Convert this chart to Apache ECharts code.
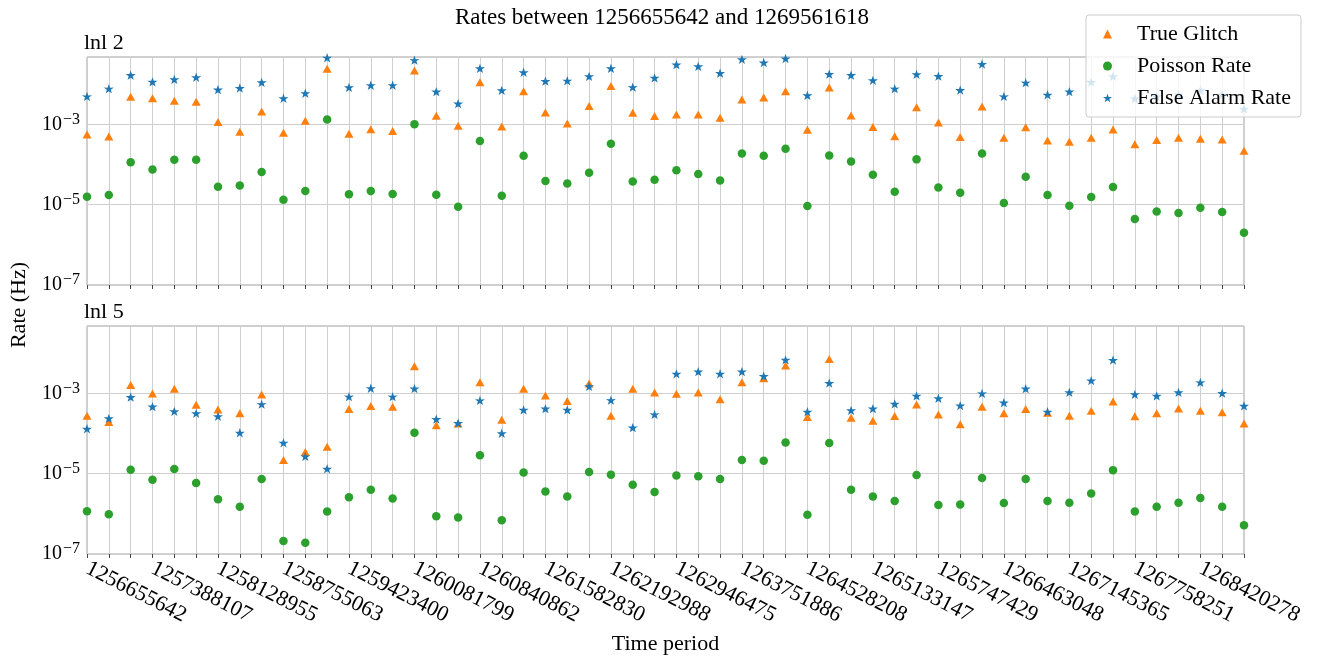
<!DOCTYPE html>
<html>
<head>
<meta charset="utf-8">
<script src="https://cdn.jsdelivr.net/npm/echarts@6/dist/echarts.min.js"></script>
<style>
html,body{margin:0;padding:0;background:#fff;}
#chart{width:1330px;height:659px;}
</style>
</head>
<body>
<div id="chart"></div>
<script>
// ---- data ----
const tickLabels = ['1256655642','1257388107','1258128955','1258755063','1259423400','1260081799','1260840862','1261582830','1262192988','1262946475','1263751886','1264528208','1265133147','1265747429','1266463048','1267145365','1267758251','1268420278'];
const seriesNames = ['True Glitch', 'Poisson Rate', 'False Alarm Rate'];

const lnl2Glitch = [5.6e-4,5.0e-4,4.9e-3,4.5e-3,3.9e-3,3.7e-3,1.15e-3,6.6e-4,2.1e-3,6.2e-4,
  1.23e-3,2.45e-2,5.9e-4,7.6e-4,6.9e-4,2.2e-2,1.66e-3,9.3e-4,1.12e-2,8.9e-4,
  6.7e-3,2.0e-3,1.05e-3,2.9e-3,9.1e-3,1.95e-3,1.62e-3,1.78e-3,1.78e-3,1.48e-3,
  4.2e-3,4.7e-3,6.7e-3,7.4e-4,8.4e-3,1.68e-3,8.7e-4,5.1e-4,2.7e-3,1.12e-3,
  4.9e-4,2.8e-3,4.7e-4,8.5e-4,4.0e-4,3.7e-4,4.7e-4,7.5e-4,3.2e-4,4.1e-4,
  4.7e-4,4.4e-4,4.2e-4,2.2e-4];
const lnl2Poisson = [1.58e-5,1.74e-5,1.15e-4,7.5e-5,1.32e-4,1.33e-4,2.8e-5,3.0e-5,6.5e-5,1.33e-5,
  2.2e-5,1.33e-3,1.82e-5,2.2e-5,1.86e-5,1.02e-3,1.78e-5,8.9e-6,3.9e-4,1.68e-5,
  1.66e-4,3.9e-5,3.4e-5,6.3e-5,3.3e-4,3.8e-5,4.2e-5,7.2e-5,5.8e-5,4.0e-5,
  1.9e-4,1.66e-4,2.5e-4,9.3e-6,1.68e-4,1.19e-4,5.6e-5,2.1e-5,1.35e-4,2.7e-5,
  2.0e-5,1.88e-4,1.1e-5,5.0e-5,1.74e-5,9.4e-6,1.55e-5,2.75e-5,4.4e-6,6.8e-6,
  6.2e-6,8.4e-6,6.6e-6,2.0e-6];
const lnl2FAR = [5.0e-3,7.8e-3,1.7e-2,1.15e-2,1.33e-2,1.5e-2,7.4e-3,8.1e-3,1.12e-2,4.5e-3,
  6.0e-3,4.6e-2,8.4e-3,9.5e-3,9.5e-3,4.0e-2,6.6e-3,3.3e-3,2.5e-2,7.1e-3,
  2.0e-2,1.2e-2,1.23e-2,1.58e-2,2.5e-2,8.5e-3,1.45e-2,3.1e-2,2.8e-2,1.9e-2,
  4.2e-2,3.5e-2,4.4e-2,5.3e-3,1.8e-2,1.7e-2,1.26e-2,7.8e-3,1.78e-2,1.6e-2,
  7.2e-3,3.2e-2,5.0e-3,1.1e-2,5.5e-3,6.6e-3,1.14e-2,1.58e-2,4.4e-3,5.0e-3,
  5.6e-3,7.1e-3,5.5e-3,2.45e-3];

const lnl5Glitch = [2.8e-4,1.95e-4,1.62e-3,1.0e-3,1.32e-3,5.2e-4,4.0e-4,3.2e-4,9.4e-4,2.2e-5,
  3.5e-5,4.7e-5,4.1e-4,4.9e-4,4.7e-4,4.8e-3,1.62e-4,1.78e-4,1.9e-3,2.2e-4,
  1.32e-3,8.9e-4,6.5e-4,1.78e-3,2.8e-4,1.32e-3,1.06e-3,9.8e-4,1.06e-3,7.2e-4,
  1.9e-3,2.4e-3,5.0e-3,2.6e-4,7.2e-3,2.5e-4,2.1e-4,2.75e-4,5.3e-4,3.0e-4,
  1.7e-4,4.7e-4,3.2e-4,4.1e-4,3.3e-4,2.8e-4,3.7e-4,6.3e-4,2.7e-4,3.2e-4,
  4.2e-4,3.7e-4,3.4e-4,1.78e-4];
const lnl5Poisson = [1.17e-6,9.8e-7,1.26e-5,7.1e-6,1.32e-5,5.9e-6,2.3e-6,1.5e-6,7.4e-6,2.1e-7,
  1.9e-7,1.15e-6,2.6e-6,4.0e-6,2.4e-6,1.05e-4,8.7e-7,8.1e-7,2.9e-5,6.9e-7,
  1.07e-5,3.6e-6,2.7e-6,1.1e-5,9.5e-6,5.3e-6,3.5e-6,9.1e-6,8.7e-6,7.4e-6,
  2.2e-5,2.1e-5,6.0e-5,9.5e-7,5.8e-5,4.0e-6,2.7e-6,2.1e-6,9.3e-6,1.66e-6,
  1.7e-6,7.8e-6,1.86e-6,7.4e-6,2.1e-6,1.9e-6,3.2e-6,1.23e-5,1.15e-6,1.5e-6,
  1.9e-6,2.5e-6,1.5e-6,5.2e-7];
const lnl5FAR = [1.32e-4,2.4e-4,8.1e-4,4.7e-4,3.6e-4,3.2e-4,2.7e-4,1.05e-4,5.4e-4,5.9e-5,
  2.7e-5,1.33e-5,8.3e-4,1.35e-3,8.3e-4,1.33e-3,2.3e-4,1.82e-4,6.7e-4,1.02e-4,
  3.9e-4,4.2e-4,3.9e-4,1.5e-3,6.8e-4,1.41e-4,3.0e-4,3.1e-3,3.5e-3,3.1e-3,
  3.5e-3,2.7e-3,6.9e-3,3.5e-4,1.82e-3,3.8e-4,4.2e-4,5.5e-4,8.7e-4,7.6e-4,
  5.0e-4,1.0e-3,5.9e-4,1.32e-3,3.5e-4,1.07e-3,2.1e-3,6.8e-3,9.5e-4,8.7e-4,
  1.07e-3,1.88e-3,1.02e-3,4.9e-4];

// ---- chart ----
const FONT = '"Liberation Serif", "Times New Roman", serif';
const colors = ['#ff7f0e', '#2ca02c', '#1f77b4'];
const STAR = 'path://M50,0 L61.8,35.1 L97.6,34.5 L69,56.2 L79.4,90.5 L50,70 L20.6,90.5 L31,56.2 L2.4,34.5 L38.2,35.1 Z';
const symbols = ['triangle', 'circle', STAR];
const symbolSizes = [[9, 8], 8.5, [10, 9.3]];
const nPts = lnl2Glitch.length;

function pairs(arr) { return arr.map((v, i) => [i, v]); }

function xAxisCfg(gridIndex, showLabels) {
  return {
    type: 'value', gridIndex: gridIndex, min: 0, max: nPts - 1, interval: 1,
    axisLine: { show: false },
    axisTick: { show: true, length: 4, lineStyle: { color: '#444', width: 1 } },
    splitLine: { show: true, lineStyle: { color: '#cfcfcf', width: 1 } },
    axisLabel: {
      show: showLabels, rotate: -27, margin: 13, fontSize: 22, fontFamily: FONT, color: '#000',
      formatter: function (v) {
        const i = Math.round(v);
        return (i % 3 === 0 && tickLabels[i / 3]) ? tickLabels[i / 3] : '';
      }
    },
    name: showLabels ? 'Time period' : '',
    nameLocation: 'middle', nameGap: 79,
    nameTextStyle: { fontSize: 22, fontFamily: FONT, color: '#000' }
  };
}

function yAxisCfg(gridIndex) {
  return {
    type: 'log', logBase: 10, gridIndex: gridIndex, min: 1e-7, max: 0.048,
    axisLine: { show: false },
    axisTick: { show: false },
    splitLine: { show: true, lineStyle: { color: ['#cfcfcf', 'rgba(0,0,0,0)'], width: 1 } },
    axisLabel: {
      margin: 7,
      formatter: function (v) {
        const e = Math.log10(v);
        const r = Math.round(e);
        if (Math.abs(e - r) > 0.01 || r % 2 === 0) return '';
        return '{b|10}{s|\u2212' + (-r) + '}';
      },
      rich: {
        b: { fontSize: 20, fontFamily: FONT, color: '#000', lineHeight: 26 },
        s: { fontSize: 16, fontFamily: FONT, color: '#000', lineHeight: 15, verticalAlign: 'top', padding: [0, 0, 0, 1] }
      }
    }
  };
}

const panels = [[lnl2Glitch, lnl2Poisson, lnl2FAR], [lnl5Glitch, lnl5Poisson, lnl5FAR]];
const series = [];
panels.forEach((p, g) => {
  p.forEach((arr, k) => {
    series.push({
      name: seriesNames[k], type: 'scatter', xAxisIndex: g, yAxisIndex: g,
      data: pairs(arr), symbol: symbols[k], symbolSize: symbolSizes[k],
      itemStyle: { color: colors[k], opacity: 1 },
      emphasis: { disabled: true }, animation: false
    });
  });
});

const option = {
  animation: false,
  backgroundColor: '#fff',
  title: [
    { text: 'Rates between 1256655642 and 1269561618', left: 450, top: 1,
      textStyle: { fontSize: 23, fontWeight: 'normal', fontFamily: FONT, color: '#000' } },
    { text: 'lnl 2', left: 84, top: 32, padding: 0,
      textStyle: { fontSize: 22, fontWeight: 'normal', fontFamily: FONT, color: '#000' } },
    { text: 'lnl 5', left: 84, top: 301, padding: 0,
      textStyle: { fontSize: 22, fontWeight: 'normal', fontFamily: FONT, color: '#000' } }
  ],
  legend: {
    data: seriesNames, orient: 'vertical', left: 1086, top: 15,
    padding: [8, 10, 8, 17], itemWidth: 9, itemHeight: 9, itemGap: 10,
    symbolKeepAspect: true,
    textStyle: { fontSize: 22, fontFamily: FONT, color: '#000', padding: [0, 0, 0, 20] },
    backgroundColor: 'rgba(255,255,255,0.8)', borderColor: '#cccccc', borderWidth: 1, borderRadius: 3
  },
  grid: [
    { left: 87, right: 86, top: 57, height: 228, show: true, borderColor: '#a0a0a0', borderWidth: 1, backgroundColor: 'transparent' },
    { left: 87, right: 86, top: 326, height: 228, show: true, borderColor: '#a0a0a0', borderWidth: 1, backgroundColor: 'transparent' }
  ],
  xAxis: [xAxisCfg(0, false), xAxisCfg(1, true)],
  yAxis: [yAxisCfg(0), yAxisCfg(1)],
  graphic: [
    { type: 'text', x: 19, y: 305, rotation: Math.PI / 2,
      style: { text: 'Rate (Hz)', fill: '#000', font: '22px ' + FONT, align: 'center', verticalAlign: 'middle' } }
  ],
  series: series
};

const chart = echarts.init(document.getElementById('chart'), null, { renderer: 'canvas' });
chart.setOption(option);
</script>
</body>
</html>
